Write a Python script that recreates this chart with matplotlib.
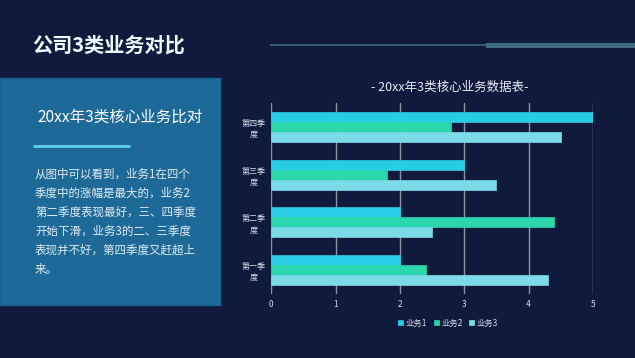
import numpy as np
import matplotlib.pyplot as plt
from matplotlib.patches import Rectangle

plt.rcParams['font.family'] = ['Noto Sans CJK SC', 'DejaVu Sans']

# 数据
quarters = ['第一季\n度', '第二季\n度', '第三季\n度', '第四季\n度']
series = ['业务1', '业务2', '业务3']
biz1 = [2.0, 2.0, 3.0, 5.0]
biz2 = [2.4, 4.4, 1.8, 2.8]
biz3 = [4.3, 2.5, 3.5, 4.5]
x_ticks = [0, 1, 2, 3, 4, 5]

colors = ['#27cde6', '#2ad6ab', '#7cdbe8']
bg = '#0f1a3d'
W, H = 635, 358

fig = plt.figure(figsize=(W / 100, H / 100), dpi=100, facecolor=bg)

# 背景层，像素坐标
deco = fig.add_axes([0, 0, 1, 1], zorder=0)
deco.set_xlim(0, W)
deco.set_ylim(H, 0)
deco.axis('off')

deco.text(32, 45, '公司3类业务对比', color='#eafcff', fontsize=14.5,
          fontweight='bold', va='center', ha='left')
deco.plot([270, 487], [45, 45], color='#3d6682', lw=1.2, solid_capstyle='butt')
deco.add_patch(Rectangle((486, 42.5), 150, 5, color='#3e6b82', lw=0))

# 左侧面板
deco.add_patch(Rectangle((0, 78), 220, 227, facecolor='#1d6a99',
                         edgecolor='#1b6290', lw=1))
deco.text(37, 117, '20xx年3类核心业务比对', color='white', fontsize=11.2,
          va='center', ha='left')
deco.plot([33, 130], [145.5, 145.5], color='#5fd3ea', lw=2, solid_capstyle='butt')
body = ['从图中可以看到，业务1在四个',
        '季度中的涨幅是最大的，业务2',
        '第二季度表现最好，三、四季度',
        '开始下滑，业务3的二、三季度',
        '表现并不好，第四季度又赶超上',
        '来。']
for i, line in enumerate(body):
    deco.text(35, 174.3 + i * 19, line, color='#e4ecf3', fontsize=8.3,
              va='center', ha='left')

deco.text(450, 87, '- 20xx年3类核心业务数据表-', color='#e8ecf2', fontsize=9,
          va='center', ha='center')

# 条形图
ax = fig.add_axes([271.3 / W, 1 - 294 / H, (593 - 271.3) / W, 191 / H], zorder=1)
ax.set_facecolor('none')
y = np.arange(len(quarters))
h = 0.2083
for vals, off, c, name in zip([biz1, biz2, biz3], [h, 0, -h], colors, series):
    ax.barh(y + off, vals, height=h, color=c, edgecolor=c, lw=0.5, label=name, zorder=3)

ax.set_xlim(0, 5)
ax.set_ylim(-0.5, 3.5)
ax.set_xticks(x_ticks)
ax.set_yticks(y)
ax.set_yticklabels(quarters, fontsize=5.8, color='#d8dde6', linespacing=1.3,
                   ha='center')
ax.tick_params(axis='y', length=0, pad=13)
ax.tick_params(axis='x', length=0, pad=4, labelsize=6, labelcolor='#d8dde6')
ax.grid(axis='x', color='#8c91a3', lw=1, zorder=1)
for s in ax.spines.values():
    s.set_visible(False)

leg = ax.legend(loc='upper center', bbox_to_anchor=(0.55, -0.09), ncol=3,
                frameon=False, fontsize=6, handlelength=0.6, handleheight=0.6,
                handletextpad=0.3, columnspacing=0.8, labelcolor='#d8dde6')

fig.savefig('out.png', dpi=100, facecolor=bg)
